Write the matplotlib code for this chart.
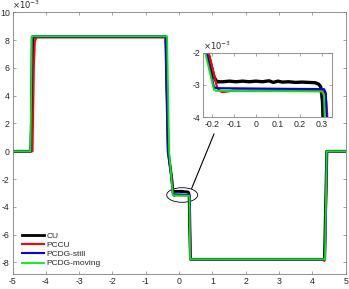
import matplotlib
matplotlib.use("Agg")
import matplotlib.pyplot as plt
from matplotlib.patches import Ellipse

plt.rcParams['font.family'] = ['Liberation Sans', 'DejaVu Sans']

# ---- data (y values in units of 1e-3) ----
cu_x = [-5, -4.45, -4.42, -4.38, -0.40, -0.33, -0.218, -0.19, -0.177, -0.15, -0.12, -0.09,
        -0.06, -0.03, 0.0, 0.03, 0.06, 0.08, 0.10, 0.12, 0.15, 0.18, 0.21, 0.24, 0.27,
        0.285, 0.295, 0.303, 0.31, 0.34, 4.36, 4.43, 5]
cu_y = [0, 0, 4, 8.25, 8.25, 0, -2, -2.75, -2.9, -2.9, -2.88, -2.9, -2.88, -2.9, -2.88,
        -2.9, -2.87, -2.92, -2.88, -2.91, -2.9, -2.92, -2.91, -2.92, -2.93, -2.97, -3.05,
        -3.5, -5, -7.78, -7.78, 0, 0]

pccu_x = [-5, -4.40, -4.36, -4.33, -4.28, -0.40, -0.33, -0.215, -0.175, -0.16, -0.15,
          -0.13, -0.10, 0.30, 0.31, 0.32, 0.33, 0.35, 4.30, 4.36, 4.38, 4.45, 5]
pccu_y = [0, 0, 6, 7.9, 8.2, 8.2, 0, -2, -3.1, -3.2, -3.22, -3.2, -3.17, -3.18, -3.2,
          -3.5, -4.5, -7.78, -7.78, -7.9, -7.5, 0, 0]

still_x = [-5, -4.45, -4.42, -0.40, -0.33, -0.225, -0.19, -0.17, 0.31, 0.318, 0.325,
           0.34, 4.38, 4.44, 5]
still_y = [0, 0, 8.25, 8.25, 0, -2, -3.08, -3.1, -3.13, -3.25, -4.5, -7.78, -7.78, 0, 0]

moving_x = [-5, -4.46, -4.42, -0.36, -0.30, -0.23, -0.19, -0.18, 0.30, 0.31, 0.315,
            0.33, 4.38, 4.43, 5]
moving_y = [0, 0, 8.28, 8.28, 0, -2, -3.15, -3.18, -3.2, -3.3, -4.5, -7.78, -7.78, 0, 0]

labels = ["CU", "PCCU", "PCDG-still", "PCDG-moving"]
colors = ["black", "red", "blue", "#00ee00"]
series = [(cu_x, cu_y), (pccu_x, pccu_y), (still_x, still_y), (moving_x, moving_y)]

main_xticks = [-5, -4, -3, -2, -1, 0, 1, 2, 3, 4, 5]
main_yticks = [-8, -6, -4, -2, 0, 2, 4, 6, 8, 10]
inset_xticks = [-0.2, -0.1, 0, 0.1, 0.2, 0.3]
inset_yticks = [-4, -3, -2]

W, H = 349, 289
fig = plt.figure(figsize=(W / 100, H / 100), dpi=100)
ax = fig.add_axes([12.5 / W, 1 - 274.3 / H, (345.7 - 12.5) / W, (274.3 - 12.4) / H])

tick_col = '#262626'
axis_col = '#808080'

def style(a, fs):
    for s in a.spines.values():
        s.set_color(axis_col)
        s.set_linewidth(0.6)
    a.tick_params(direction='in', top=True, right=True, length=2.5, width=0.5,
                  colors=axis_col, labelcolor=tick_col, labelsize=fs, pad=2)

lws = [2.0, 1.5, 1.5, 1.3]
for (x, y), c, l, lw in zip(series, colors, labels, lws):
    ax.plot(x, y, color=c, lw=lw, label=l)

ax.set_xlim(-5, 5)
ax.set_ylim(-8.86, 10)
ax.set_xticks(main_xticks)
ax.set_yticks(main_yticks)
ax.set_xticklabels([str(v) for v in main_xticks])
ax.set_yticklabels([str(v) for v in main_yticks])
style(ax, 6.3)
ax.text(0.0, 1.005, r'$\times10^{-3}$', transform=ax.transAxes, fontsize=6,
        color=tick_col, ha='left', va='bottom')

leg = ax.legend(loc='lower left', frameon=False, fontsize=6, handlelength=2.6,
                handletextpad=0.35, labelspacing=0.17, borderaxespad=0, borderpad=0,
                bbox_to_anchor=(0.0285, 0.026))
for t in leg.get_texts():
    t.set_color(tick_col)

# ellipse + connector
ax.add_patch(Ellipse((0.093, -3.15), 0.93, 1.05, fill=False, ec='black', lw=0.6))
ax.plot([0.378, 1.047], [-2.67, 1.24], color='black', lw=0.8)

# inset
ins = fig.add_axes([203 / W, 1 - 117.3 / H, (331.7 - 203) / W, (117.3 - 52.7) / H])
ilws = [2.4, 1.6, 1.6, 1.4]
for (x, y), c, lw in zip(series, colors, ilws):
    ins.plot(x, y, color=c, lw=lw)
ins.set_xlim(-0.24, 0.345)
ins.set_ylim(-4, -2)
ins.set_xticks(inset_xticks)
ins.set_xticklabels(['-0.2', '-0.1', '0', '0.1', '0.2', '0.3'])
ins.set_yticks(inset_yticks)
ins.set_yticklabels([str(v) for v in inset_yticks])
style(ins, 6.3)
ins.text(0.0, 1.005, r'$\times10^{-3}$', transform=ins.transAxes, fontsize=6,
         color=tick_col, ha='left', va='bottom')

fig.savefig('out.png', dpi=100)
